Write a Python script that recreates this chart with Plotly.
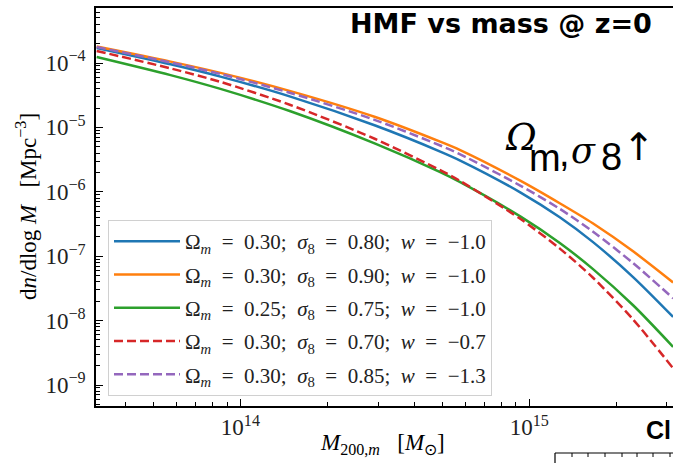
import plotly.graph_objects as go

# ---- data ----
mass = [3.18e13, 5.73e13, 8.53e13, 1.49e14, 2.93e14, 4.92e14, 5.77e14,
        9.31e14, 1.28e15, 1.66e15, 2.29e15, 3.15e15]

hmf_blue = [1.71e-4, 9.55e-5, 6.15e-5, 3.01e-5, 1.07e-5, 4.22e-6, 3.06e-6,
            9.82e-7, 3.99e-7, 1.67e-7, 4.74e-8, 1.14e-8]
hmf_orange = [1.80e-4, 1.05e-4, 7.02e-5, 3.66e-5, 1.45e-5, 6.00e-6, 4.44e-6,
              1.49e-6, 6.58e-7, 3.24e-7, 1.19e-7, 3.91e-8]
hmf_green = [1.24e-4, 6.49e-5, 3.96e-5, 1.78e-5, 5.60e-6, 2.02e-6, 1.41e-6,
             4.15e-7, 1.59e-7, 6.35e-8, 1.73e-8, 3.91e-9]
hmf_red = [1.54e-4, 8.24e-5, 5.09e-5, 2.23e-5, 6.61e-6, 2.17e-6, 1.47e-6,
           3.81e-7, 1.30e-7, 4.67e-8, 1.04e-8, 1.82e-9]
hmf_purple = [1.77e-4, 1.02e-4, 6.75e-5, 3.43e-5, 1.30e-5, 5.24e-6, 3.82e-6,
              1.25e-6, 5.39e-7, 2.42e-7, 7.82e-8, 2.22e-8]

omega_m = ["0.30", "0.30", "0.25", "0.30", "0.30"]
sigma_8 = ["0.80", "0.90", "0.75", "0.70", "0.85"]
w_de = ["−1.0", "−1.0", "−1.0", "−0.7", "−1.3"]

y_tickvals = [1e-4, 1e-5, 1e-6, 1e-7, 1e-8, 1e-9]
y_ticktext = ["10<sup>−4</sup>", "10<sup>−5</sup>", "10<sup>−6</sup>",
              "10<sup>−7</sup>", "10<sup>−8</sup>", "10<sup>−9</sup>"]
x_tickvals = [1e14, 1e15]
x_ticktext = ["10<sup>14</sup>", "10<sup>15</sup>"]

series = [hmf_blue, hmf_orange, hmf_green, hmf_red, hmf_purple]
colors = ["#1f77b4", "#ff7f0e", "#2ca02c", "#d62728", "#9467bd"]
dashes = ["solid", "solid", "solid", "9px,4px", "9px,4px"]

SERIF = "Liberation Serif"
SANS = "Liberation Sans"
S2 = "\u00a0\u00a0"

def make_label(om, s8, w):
    return (f"Ω<sub><i>m</i></sub>{S2}={S2}{om};{S2}<i>σ</i><sub>8</sub>{S2}={S2}{s8};"
            f"{S2}<i>w</i>{S2}={S2}{w}")

fig = go.Figure()
for i, vals in enumerate(series):
    fig.add_trace(go.Scatter(
        x=mass, y=vals, mode="lines",
        name=make_label(omega_m[i], sigma_8[i], w_de[i]),
        line=dict(color=colors[i], width=2.5, dash=dashes[i], shape="spline", smoothing=0.8),
        legendgroup=str(i),
    ))

def px(x):
    return (x - 96) / 577.0

def py(y):
    return (406 - y) / 398.0

fig.update_layout(
    width=673, height=463,
    margin=dict(l=96, r=0, t=8, b=57),
    paper_bgcolor="white", plot_bgcolor="white",
    showlegend=True,
    legend=dict(
        x=px(108), y=py(220), xanchor="left", yanchor="top",
        bgcolor="rgba(255,255,255,0.85)", bordercolor="#d0d0d0", borderwidth=1,
        font=dict(family=SERIF, size=21, color="#222"),
        traceorder="grouped", tracegroupgap=3, itemwidth=66,
    ),
)

fig.update_xaxes(
    type="log", range=[13.5, 15.498],
    showline=True, linecolor="black", linewidth=1.5, mirror=True,
    showgrid=False, zeroline=False,
    ticks="inside", ticklen=7, tickwidth=1.2, tickcolor="black",
    tickmode="array", tickvals=x_tickvals, ticktext=x_ticktext,
    tickfont=dict(family=SERIF, size=23, color="#222"),
    minor=dict(ticks="inside", ticklen=4, tickwidth=1, tickcolor="black",
               dtick="D1", showgrid=False),
)
fig.update_yaxes(
    type="log", range=[-9.326, -3.146],
    showline=True, linecolor="black", linewidth=1.5, mirror=False,
    showgrid=False, zeroline=False,
    ticks="inside", ticklen=7, tickwidth=1.2, tickcolor="black",
    tickmode="array", tickvals=y_tickvals, ticktext=y_ticktext,
    tickfont=dict(family=SERIF, size=23, color="#222"),
    ticklabelstandoff=4,
    minor=dict(ticks="inside", ticklen=4, tickwidth=1, tickcolor="black",
               dtick="D1", showgrid=False),
)

def note(text, x, y, family, size, angle=0, xanchor="center", style="normal"):
    return dict(text=text, x=px(x), y=py(y), xref="paper", yref="paper",
                xanchor=xanchor, yanchor="middle", showarrow=False, textangle=angle,
                font=dict(family=family, size=size, color="black", style=style))

ann = [
    note("d<i>n</i>/dlog <i>M</i>   [Mpc<sup>−3</sup>]", 26, 207, SERIF, 23, angle=-90),
    note("<i>M</i><sub>200,<i>m</i></sub>   [<i>M</i><sub>⊙</sub>]", 382, 444, SERIF, 23),
    note("<b>HMF vs mass @ z=0</b>", 501, 24, "DejaVu Sans", 27),
    note("Ω", 521, 137, "DejaVu Serif", 37, style="italic"),
    note("m", 545, 158, SANS, 38),
    note(",", 564, 153, SANS, 38),
    note("σ", 583, 151, "DejaVu Serif", 35, style="italic"),
    note("8", 611, 157, SANS, 38),
    note("↑", 639, 147, "DejaVu Sans", 38),
    note("<b>Cl</b>", 644, 430, SANS, 25, xanchor="left"),
]
fig.update_layout(annotations=ann)

# partial frame of a neighbouring panel at the bottom right
shapes = [
    dict(type="line", xref="paper", yref="paper", x0=px(555), x1=px(680),
         y0=py(453), y1=py(453), line=dict(color="black", width=1.2)),
    dict(type="line", xref="paper", yref="paper", x0=px(555), x1=px(555),
         y0=py(453), y1=py(470), line=dict(color="black", width=1.2)),
]
for tx in [572, 588, 605, 622, 637, 653, 670]:
    shapes.append(dict(type="line", xref="paper", yref="paper", x0=px(tx), x1=px(tx),
                       y0=py(453), y1=py(457), line=dict(color="black", width=1)))
fig.update_layout(shapes=shapes)

fig.write_html("out.html")
